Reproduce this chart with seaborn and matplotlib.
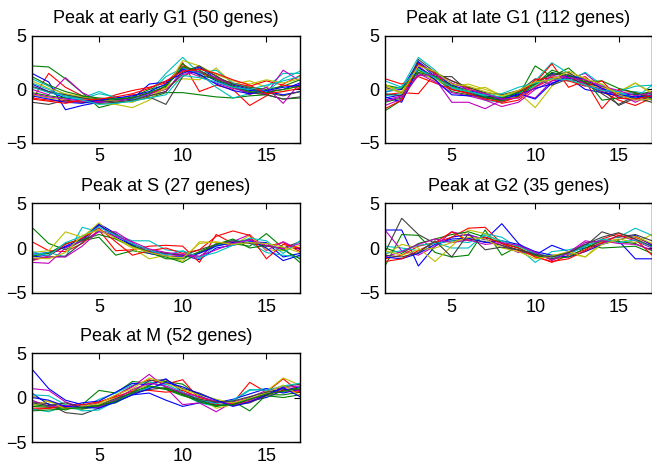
import numpy as np
import pandas as pd
import matplotlib
matplotlib.use("Agg")
import matplotlib.pyplot as plt
import seaborn as sns

TIME = list(range(1, 18))

TITLES = ["Peak at early G1 (50 genes)", "Peak at late G1 (112 genes)",
          "Peak at S (27 genes)", "Peak at G2 (35 genes)", "Peak at M (52 genes)"]

# expression profiles (a representative subset of genes per phase)
early_g1 = [
    [0.5, -0.2, -0.8, -1.0, -1.1, -1.0, -0.9, -0.5, 0.3, 2.0, 1.6, 0.8, 0.2, -0.1, -0.2, 0.0, 0.6],
    [2.2, 2.1, 1.0, -0.3, -1.7, -1.3, -1.0, -0.8, -0.3, -0.3, -0.5, -0.7, -0.8, -0.6, -0.5, -0.9, -0.8],
    [-1.0, 1.5, 0.2, -0.6, -1.2, -1.0, -0.5, -0.4, 0.2, 2.5, -0.2, 0.4, 0.0, -1.5, -0.6, 0.5, 1.3],
    [1.0, 0.3, -0.5, -0.8, -0.2, -0.8, -1.0, -0.3, 1.5, 3.0, 1.5, 0.2, -0.8, -0.4, 0.2, 1.5, 1.5],
    [0.0, -0.5, 1.1, -0.3, -1.0, -1.2, -0.8, -0.6, -0.2, 1.8, 1.2, 0.6, 0.1, -0.3, -0.4, 1.8, 0.8],
    [-0.5, -0.8, -1.0, -1.2, -1.3, -1.4, -1.7, -1.0, 0.3, 1.0, 0.9, 2.0, 0.5, 0.8, 0.2, -0.2, 0.5],
    [-1.2, -1.4, -1.0, -1.2, -1.3, -1.2, -1.1, -0.7, -1.4, 1.2, 2.0, 1.3, 0.2, -0.3, -0.5, -0.9, -0.7],
    [1.5, 0.7, -1.9, -1.5, -1.2, -1.0, -0.9, 0.5, 0.7, 1.5, 2.1, 1.0, 0.4, 0.0, -0.2, -0.5, -0.2],
    [-0.3, -0.6, -0.8, -0.7, -0.9, -1.0, -0.7, 0.0, 0.4, 2.4, 1.3, 1.0, 0.5, 0.2, 0.0, 0.3, 0.9],
    [-0.8, -1.0, -1.1, -1.2, -1.1, -0.5, -0.1, 0.2, 0.6, 2.2, 1.6, 1.0, 0.6, 0.3, 0.8, 0.4, 0.2],
    [0.2, -0.3, -0.6, -0.9, -0.4, -0.7, -0.9, -0.4, 1.2, 2.0, 1.5, 1.8, 0.6, 0.1, -0.2, 1.0, 1.7],
    [-0.4, -0.7, -0.9, -1.1, -1.2, -1.1, -0.8, -0.4, 0.0, 1.4, 1.7, 1.1, 0.3, -0.5, 0.2, -1.3, 0.6],
    [0.8, 0.1, -0.4, -0.7, -1.0, -1.1, -1.2, -0.6, 0.1, 2.7, 2.2, 1.4, 0.8, 0.5, 0.9, 0.6, 1.0],
    [0.3, -0.2, -0.5, -0.8, -1.0, -1.2, -1.0, -0.6, -0.2, 1.6, 2.2, 1.2, 0.5, 0.1, -0.3, -0.6, -0.2],
    [-0.6, -0.9, -1.2, -1.3, -1.0, -0.8, -0.6, -0.2, 0.5, 1.9, 1.4, 0.5, -0.1, -0.4, -0.1, 0.2, 0.4],
    [1.2, 0.4, -0.2, -0.6, -0.8, -0.9, -0.8, -0.3, 0.3, 2.1, 1.8, 0.9, 0.3, -0.2, -0.3, 0.0, 0.3],
    [-0.9, -1.1, -1.3, -1.0, -0.9, -0.7, -0.4, 0.1, 0.8, 1.7, 1.9, 1.5, 0.9, 0.4, -0.4, -0.2, 0.1],
    [0.6, 0.0, -0.7, -1.0, -1.4, -1.3, -1.1, -0.8, -0.5, 1.3, 1.1, 0.7, 0.2, 0.0, 0.4, 0.8, 1.2],
]

late_g1 = [
    [-0.8, -0.5, 2.5, 1.2, 0.0, -0.3, -0.8, -1.0, -0.5, 0.5, 1.5, 1.2, 0.4, -0.2, -0.6, -0.8, -0.6],
    [-2.0, -1.0, 1.5, 1.0, 0.5, 0.2, -0.4, -0.8, -0.6, 2.2, 1.2, 2.0, 0.6, 0.3, -0.3, -0.5, -0.2],
    [-0.5, -0.3, -0.4, 1.5, 0.8, 0.1, -0.5, -1.3, -1.0, 0.2, 1.0, 0.8, 1.2, -0.2, -1.0, -1.5, -0.8],
    [0.8, 0.2, 3.0, 1.8, 0.2, -0.4, -1.0, -1.2, -0.5, 0.8, 2.5, 1.5, 0.6, 0.0, -0.5, -0.2, -0.5],
    [-1.0, -0.6, 2.2, 1.0, -1.2, -1.2, -1.8, -1.0, -0.4, -0.8, 0.8, 1.0, 1.5, 0.2, -0.8, -1.0, -0.2],
    [0.3, 0.0, 1.8, 0.8, 0.3, 0.5, 0.0, -0.5, -0.3, -1.7, 0.3, 1.5, 0.8, 0.3, -0.2, 0.6, -0.4],
    [0.2, -0.3, 2.0, 1.2, 1.2, -0.2, -0.8, -1.0, -0.2, 1.0, 0.4, 1.0, 0.6, 0.2, -1.5, -0.8, -1.2],
    [-0.2, 0.0, 2.6, 1.4, 0.4, -0.1, -0.5, -0.8, -0.4, -0.9, 0.6, 1.1, 0.0, -0.3, -0.6, -0.4, -0.8],
    [-1.2, -0.8, 1.8, 1.2, -0.2, -0.5, -0.7, -1.1, -0.6, 0.4, 1.6, 1.2, 1.0, -1.0, -0.8, -0.4, -0.4],
    [1.0, 0.5, 1.2, 0.6, 0.0, -0.3, -0.6, -0.9, -0.2, 0.6, 2.4, 0.2, 0.8, -1.8, 0.0, -0.3, -0.7],
    [-0.6, -0.4, 2.3, 1.5, 0.1, -0.2, -0.5, -0.7, -0.3, 0.4, 1.0, 0.8, 1.6, 0.4, -0.3, -0.8, 0.4],
    [-1.5, -0.9, 1.5, 0.7, -0.3, -0.6, -1.0, -1.6, -1.2, 0.0, 0.8, 1.4, 0.5, 0.0, -0.4, -1.2, -0.5],
    [0.0, -0.2, 2.0, 1.0, 0.2, -0.1, 0.2, -0.6, -0.8, 0.3, 1.2, 0.9, 0.4, 0.2, -0.3, 0.6, -0.3],
    [-0.4, -0.6, 2.8, 1.6, 0.8, 0.2, -0.3, -0.5, -0.1, 0.6, 1.4, 1.6, 0.6, -0.4, -1.4, -0.6, -1.0],
    [-0.7, -1.2, 2.1, 0.9, -0.5, -0.6, -0.6, -0.9, -0.5, 0.1, 0.5, 1.3, 0.9, 0.1, -0.5, -0.7, -0.6],
    [0.4, 0.1, 1.6, 1.2, 0.3, -0.2, -0.7, -0.8, -0.3, 0.5, 1.8, 1.3, 0.7, 0.8, 0.1, -0.3, -0.9],
    [-1.8, -1.0, 2.4, 1.5, 0.0, -0.4, -0.9, -1.2, -0.7, 0.9, 1.1, 0.8, 0.3, 0.8, -0.8, -0.9, -0.6],
    [-0.3, 0.3, 1.9, 1.1, 0.2, -0.2, -0.6, -0.4, 0.2, 0.6, 1.0, 0.9, 0.4, -0.1, -0.2, 0.3, 0.4],
    [-1.1, -0.7, 1.3, 1.4, 0.6, 0.0, -0.4, -0.9, -0.8, 0.2, 1.3, 1.1, 0.9, 0.3, -0.1, -0.6, -0.3],
    [0.5, -0.4, 2.2, 1.7, 0.5, 0.3, -0.2, -0.6, -0.1, 0.7, 0.9, 1.7, 1.0, 0.5, -0.5, -1.0, -0.9],
]

s_phase = [
    [-0.7, -0.5, 0.1, 0.8, 2.7, 1.6, 0.2, -0.4, -0.6, -0.8, -1.3, 0.0, 0.3, 0.7, 0.6, -1.0, -0.6],
    [2.3, 0.5, -0.2, 0.8, 1.2, -0.8, -0.3, -0.6, -1.0, -1.6, -0.5, 0.3, 0.5, 0.2, 1.6, 0.0, -1.6],
    [0.7, -0.3, -0.4, 0.5, 2.0, -0.3, -0.2, 0.2, 0.3, 0.2, -1.6, 1.5, 0.5, 1.0, 0.2, 0.6, -0.4],
    [-0.8, -0.5, -1.0, 2.3, 1.8, 1.5, 0.8, 0.8, -0.2, -0.4, -1.2, 0.3, 0.9, 0.6, -0.5, -0.8, -1.0],
    [-1.6, -1.7, 0.0, 0.8, 1.8, 1.8, 0.6, -0.5, -0.7, -0.9, -1.0, 0.5, 0.7, 1.5, -0.3, 0.7, -0.2],
    [-0.5, -0.3, 1.8, 1.2, 2.8, 1.0, 0.0, -1.2, -0.8, -1.5, 0.7, 0.6, 0.3, 1.4, -0.2, -0.3, 0.3],
    [-1.2, -1.0, -0.9, 0.6, 2.5, 1.5, 0.4, -0.2, -0.6, -0.8, -0.2, 0.4, 0.8, 0.5, 0.2, 0.0, 0.7],
    [-1.0, -0.8, 0.2, 1.0, 2.6, 1.2, 0.3, -0.6, -0.9, -1.0, -0.6, 0.2, 0.6, 0.9, 0.0, -1.4, -0.8],
    [-0.9, -0.6, 0.5, 0.9, 1.5, 1.0, 0.2, -0.4, -1.2, -1.2, -0.4, 0.4, 1.0, 0.0, 0.3, -0.2, -1.2],
    [-1.4, -0.9, 0.4, 1.1, 2.2, 0.7, -0.8, -0.3, 0.0, -0.6, -0.2, 1.3, 1.9, 1.4, -1.2, 0.4, 0.0],
    [-0.4, -0.9, 0.6, 1.3, 2.3, 1.4, 0.5, -0.2, -0.8, -0.3, -1.0, -0.5, 0.3, 1.1, 0.8, -0.6, 0.8],
    [-1.3, -1.0, -1.0, 0.2, 1.9, 1.3, 0.7, -0.1, -0.5, -0.7, -0.9, -0.2, 0.5, 0.9, 0.3, -0.1, 0.5],
    [-1.1, -1.2, -0.5, 1.4, 2.0, 1.1, 0.1, -0.5, -0.9, -1.1, 0.5, 0.7, 0.4, 0.6, 0.5, 0.1, -0.5],
]

g2_phase = [
    [2.0, 2.0, -2.0, 0.2, 1.2, 1.5, 0.9, 2.7, 0.5, -0.8, 0.3, -0.4, 0.0, 0.5, 0.8, -1.2, -1.2],
    [-2.0, 1.5, 1.4, -0.5, -1.0, -0.8, 2.0, -0.8, 0.2, -0.6, -1.0, -0.6, 0.4, 0.0, 0.1, 0.2, -0.6],
    [-1.2, -0.8, 0.2, 0.6, 1.2, 2.2, 2.3, 0.5, -0.3, -0.9, -1.6, -0.8, -0.2, 1.0, 1.6, 1.2, 0.4],
    [0.2, 0.0, -0.3, 0.6, 0.0, 0.0, 1.6, 1.2, 0.0, -1.6, -0.4, -0.2, 0.2, 0.9, 1.2, 2.2, 1.4],
    [2.0, -0.3, -0.8, 0.2, 1.8, 1.4, 1.0, 0.3, -0.5, -0.4, -1.4, -0.5, 0.8, 0.5, 1.4, 0.8, 0.0],
    [-0.8, 0.4, 0.0, -1.5, 0.2, 2.0, 1.6, 0.6, 0.0, -1.0, -0.8, -0.6, -1.0, 0.7, 1.0, 0.6, 1.5],
    [-0.5, 3.3, 1.5, 0.5, 0.8, 1.0, 0.7, 0.3, -0.2, -0.8, -1.2, -0.6, 0.2, 1.8, 1.2, 1.5, 0.8],
    [-1.0, -1.2, -0.6, 0.4, 1.0, 1.1, 0.6, 0.8, 0.4, -0.4, -0.8, -1.0, -0.4, 0.4, 0.9, 1.4, 0.3],
    [0.0, -0.6, 0.5, 1.0, 1.5, 1.8, 1.2, 0.6, 0.0, -0.8, -1.2, -1.0, 0.0, 0.8, 0.7, 0.5, -0.3],
    [-1.5, -1.2, -0.3, 0.6, 1.8, 0.8, 1.2, 0.5, 0.0, -1.0, -1.5, -1.2, -0.3, 0.6, 1.4, 1.0, -0.8],
    [-0.6, -0.3, 0.3, 0.5, 0.8, 0.6, 1.4, 0.8, 0.2, -0.6, -1.0, -0.7, 0.2, 1.0, 0.6, 0.9, 0.1],
    [-1.0, -0.4, 0.4, 1.0, 0.6, 0.9, 0.4, 0.6, 0.3, -0.5, -1.3, -0.6, 0.6, 0.8, 0.5, 0.4, -0.2],
    [-0.3, -0.8, -0.2, 0.0, 0.6, 1.2, 1.0, 0.0, -0.4, -1.2, -0.9, -0.4, -1.0, 0.4, 0.9, 1.3, 0.5],
    [-0.8, -1.0, -0.5, 0.8, -1.0, 1.6, -0.2, 0.1, -0.2, -0.7, -1.0, -0.5, 0.4, 1.2, 1.7, 1.0, 0.2],
]

m_phase = [
    [3.2, 1.0, -0.3, -0.8, -0.9, -0.5, 0.3, 0.5, -0.3, -1.0, -0.6, -0.8, -0.9, -0.4, 0.0, 0.8, 1.2],
    [-0.8, -1.0, -1.4, -0.8, 0.8, 0.5, 1.8, 1.6, 1.8, 1.5, 0.2, -0.6, -0.4, -1.5, 0.3, 0.3, 0.6],
    [-1.4, -1.2, -1.1, -1.0, -0.6, 0.2, 1.3, 2.0, 1.5, 2.0, -0.2, -0.8, -0.6, 1.7, 0.6, 2.1, 0.6],
    [-1.3, -1.6, -0.9, -1.2, -0.2, 0.5, 1.4, 1.8, 1.2, 0.4, -0.6, -1.0, -0.4, 0.8, 1.0, 0.6, 1.0],
    [1.0, 0.8, -0.5, -1.1, -0.6, 0.2, 1.2, 2.6, 1.1, -0.8, -0.6, -1.6, -0.5, 0.0, 0.8, 1.1, 1.3],
    [0.2, -0.5, -0.8, -1.3, -0.8, 0.0, 0.8, 1.4, 2.0, 0.8, 0.0, -1.2, -0.8, -0.4, 0.7, 2.2, 1.4],
    [-0.5, -0.7, -1.7, -1.9, -1.2, -0.3, 0.6, 1.9, 2.0, 1.0, 0.5, -0.3, -0.9, -0.6, 0.2, 1.2, 1.5],
    [0.5, -0.8, -1.0, -0.6, -0.4, 0.6, 1.6, 1.4, 2.1, 0.6, -0.4, -0.6, -0.2, 0.4, 1.0, 0.5, 0.9],
    [-1.0, -1.1, -1.2, -1.3, -1.0, -0.6, 0.4, 1.2, 0.9, 0.2, -0.3, -1.0, -0.7, -0.1, 0.2, 0.0, 0.3],
    [-1.2, -1.2, -0.9, -0.8, -0.5, 0.1, 0.7, 0.8, 0.6, 0.8, 0.0, -0.5, -0.7, -0.5, 0.3, 0.8, 0.6],
    [0.3, 0.2, -0.8, -1.5, -1.4, -0.4, 0.5, 1.1, 1.5, 0.6, -0.2, -0.7, -0.3, 0.9, 0.8, 1.3, 1.6],
    [-0.3, -1.0, -0.9, -1.0, -1.1, -0.2, 0.9, 1.6, 1.3, 0.5, 0.1, -0.4, -0.8, -0.3, 0.4, 1.0, 0.8],
    [-0.9, -0.4, -1.3, -1.0, -0.7, 0.3, 1.0, 2.2, 1.6, 0.9, 0.3, -0.2, -0.6, -0.1, 0.5, 1.4, 0.2],
    [-0.6, -0.9, -0.6, -1.2, -0.9, -0.1, 0.5, 0.9, 1.1, 0.4, -0.2, -0.5, -0.4, 0.1, 0.6, 0.9, 0.9],
    [0.0, -0.3, -1.0, -1.1, -1.2, -0.5, 0.3, 1.0, 1.7, 1.2, 0.4, -0.3, -1.0, -0.5, 0.3, 1.1, 0.1],
    [-1.5, -1.4, -1.3, -1.1, -0.9, -0.4, 0.6, 1.3, 1.0, 0.3, -0.5, -0.9, -0.8, -0.2, 0.4, 0.7, 1.1],
]

PANELS = [early_g1, late_g1, s_phase, g2_phase, m_phase]

# old matlab line colour order
MATLAB_COLORS = [(0, 0, 1), (0, 0.5, 0), (1, 0, 0), (0, 0.75, 0.75),
                 (0.75, 0, 0.75), (0.75, 0.75, 0), (0.25, 0.25, 0.25)]

# axes boxes in figure fractions (left, bottom, width, height)
BOXES = [
    (0.049, 0.694, 0.411, 0.229),
    (0.5905, 0.694, 0.4095, 0.229),
    (0.049, 0.3726, 0.411, 0.1927),
    (0.5905, 0.3726, 0.4095, 0.1927),
    (0.049, 0.0535, 0.411, 0.1906),
]

sns.set_style("white")
plt.rcParams["font.family"] = ["Liberation Sans", "DejaVu Sans"]
plt.rcParams["font.size"] = 13
plt.rcParams["text.color"] = "black"
plt.rcParams["axes.titlecolor"] = "black"

fig = plt.figure(figsize=(6.52, 4.67), dpi=100)

for title, profiles, box in zip(TITLES, PANELS, BOXES):
    ax = fig.add_axes(box)
    rows = []
    for g, prof in enumerate(profiles):
        for t, v in zip(TIME, prof):
            rows.append({"gene": f"g{g}", "t": t, "value": v})
    df = pd.DataFrame(rows)
    pal = [MATLAB_COLORS[i % len(MATLAB_COLORS)] for i in range(len(profiles))]
    sns.lineplot(data=df, x="t", y="value", hue="gene", palette=pal,
                 estimator=None, legend=False, linewidth=0.8, ax=ax)
    ax.set_xlim(1, 17)
    ax.set_ylim(-5, 5)
    ax.set_xticks([5, 10, 15])
    ax.set_yticks([-5, 0, 5])
    ax.set_xlabel("")
    ax.set_ylabel("")
    ax.set_title(title, fontsize=13, pad=9, color="black")
    ax.tick_params(direction="in", top=True, right=True, length=4, width=0.8,
                   labelsize=13, pad=4, colors="black")
    for sp in ax.spines.values():
        sp.set_visible(True)
        sp.set_color("black")
        sp.set_linewidth(1.0)

fig.savefig("out.png", dpi=100)
